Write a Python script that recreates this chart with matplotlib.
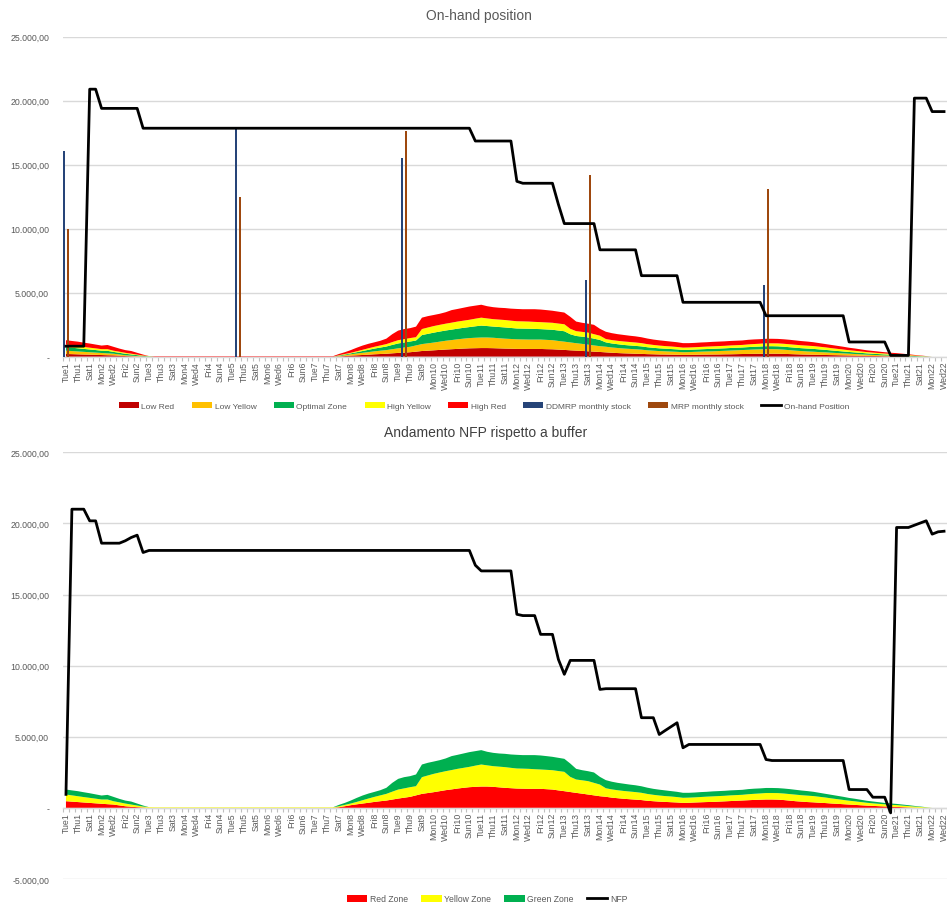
import matplotlib
matplotlib.use('agg')
from matplotlib import pylab as plt
from matplotlib.ticker import FuncFormatter, MultipleLocator
import numpy as np

plt.rcParams['font.family'] = ['Liberation Sans', 'DejaVu Sans']

GREY_TXT = '#595959'
GRID = '#D9D9D9'

weekdays = ['Tue', 'Wed', 'Thu', 'Fri', 'Sat', 'Sun', 'Mon']
n_days = 149
day_labels = [weekdays[d % 7] + str(1 + (d + 1) // 7) for d in range(n_days)]

# ---- top chart: buffer split in five bands (daily values) ----
low_red = ([210, 200, 185, 170, 160, 145, 130, 115, 105, 80, 50, 35, 20, 10, 0] + [0] * 31 +
           [20, 50, 85, 110, 135, 160, 190, 210, 230, 265, 295, 320, 350, 395, 445, 470, 500, 530, 560, 585,
            610, 635, 655, 665, 675, 675, 665, 650, 635, 625, 610, 610, 605, 605, 605, 590, 580, 555, 530, 500,
            475, 450, 425, 395, 370] +
           [340, 310, 285, 265, 250, 230, 220, 200, 190, 175, 170, 160, 150, 140, 145, 150, 160, 165, 170, 175,
            185, 190, 200, 210, 215, 225, 230, 235, 235, 230, 220, 205, 190, 175, 165, 155, 145, 135, 125, 115,
            105, 95, 85, 75, 65, 55, 50, 40, 35, 30, 20, 10, 5, 0, 0] + [0] * 3)
low_yellow = ([260, 240, 225, 210, 190, 175, 160, 145, 130, 95, 65, 45, 30, 15, 0] + [0] * 31 +
              [25, 65, 105, 140, 170, 200, 230, 260, 285, 320, 360, 395, 425, 485, 540, 575, 605, 645, 685, 715,
               750, 775, 800, 815, 825, 825, 815, 795, 775, 760, 750, 740, 735, 735, 735, 725, 710, 675, 645, 615,
               580, 550, 515, 485, 450] +
              [440, 410, 395, 375, 360, 350, 330, 300, 280, 265, 250, 240, 230, 210, 215, 230, 235, 245, 250, 265,
               275, 290, 300, 310, 325, 335, 345, 355, 355, 350, 330, 305, 280, 265, 245, 235, 215, 205, 185, 170,
               155, 140, 125, 110, 95, 85, 70, 60, 50, 40, 30, 20, 5, 0, 0] + [0] * 3)
optimal = ([280, 265, 245, 230, 215, 200, 180, 200, 140, 130, 115, 95, 70, 40, 30] + [0] * 31 +
           [40, 55, 70, 100, 140, 180, 215, 245, 280, 335, 380, 395, 410, 385, 705, 740, 775, 790, 800, 815,
            830, 845, 860, 895, 930, 895, 875, 875, 875, 860, 845, 845, 845, 830, 815, 815, 815, 815, 815, 640,
            565, 565, 565, 530, 490] +
           [340, 315, 295, 280, 270, 265, 255, 240, 225, 215, 205, 200, 190, 180, 180, 180, 185, 190, 195, 195,
            195, 200, 200, 200, 210, 215, 220, 230, 230, 230, 230, 230, 230, 225, 225, 220, 210, 195, 180, 165,
            150, 135, 125, 115, 100, 90, 85, 75, 70, 65, 55, 50, 45, 35, 20] + [0] * 3)
high_yellow = ([190, 175, 165, 150, 140, 130, 120, 130, 95, 85, 75, 60, 45, 30, 20] + [0] * 31 +
               [30, 40, 45, 70, 95, 120, 140, 165, 190, 220, 255, 260, 270, 260, 470, 495, 515, 525, 535, 545,
                555, 560, 570, 595, 620, 595, 580, 580, 580, 570, 565, 565, 560, 550, 545, 545, 545, 545, 545, 425,
                375, 375, 375, 350, 330] +
               [260, 265, 265, 270, 270, 265, 255, 240, 225, 215, 205, 200, 190, 180, 180, 180, 185, 190, 195, 195,
                195, 200, 200, 200, 210, 215, 220, 225, 225, 230, 230, 230, 230, 225, 225, 220, 210, 195, 180, 165,
                150, 135, 125, 110, 100, 90, 80, 75, 65, 60, 55, 50, 40, 30, 15] + [0] * 3)
high_red = ([350, 350, 355, 340, 325, 300, 280, 325, 305, 245, 210, 210, 140, 70, 0] + [40] * 31 +
            [95, 140, 210, 280, 330, 350, 350, 365, 425, 620, 750, 790, 775, 825, 890, 890, 865, 865, 895, 980,
             985, 1010, 1035, 1020, 1010, 955, 935, 925, 935, 940, 960, 950, 965, 990, 985, 965, 940, 930, 915, 940,
             750, 710, 700, 730, 540] +
            [570, 540, 520, 510, 490, 480, 460, 440, 420, 410, 400, 380, 370, 350, 340, 340, 345, 340, 350, 350,
             350, 350, 350, 350, 360, 360, 355, 355, 355, 350, 350, 350, 340, 330, 320, 300, 280, 260, 250, 235,
             220, 195, 180, 160, 140, 130, 115, 100, 90, 85, 75, 60, 45, 30, 15] + [0] * 3)

on_hand = ([820] * 4 + [20900] * 2 + [19400] * 7 + [17850] * 56 + [16850] * 7 + [13700] + [13550] * 6 +
           [11900] + [10400] * 6 + [8350] * 7 + [6330] * 7 + [4250] * 14 + [3200] * 14 + [1150] * 7 +
           [100] * 4 + [20200] * 3 + [19150] * 3)

# monthly stock bars
stock_days = [0, 29, 57, 88, 118]
ddmrp_stock = [16050, 17850, 15500, 6000, 5600]
mrp_stock = [10000, 12500, 17600, 14200, 13100]

# ---- bottom chart: red / yellow / green zone and NFP ----
red_zone = ([470, 440, 410, 380, 350, 320, 290, 260, 235, 175, 115, 80, 50, 25, 0] + [0] * 31 +
            [45, 115, 190, 250, 305, 360, 420, 470, 515, 585, 655, 715, 775, 880, 985, 1045, 1105, 1175, 1245, 1300,
             1360, 1410, 1455, 1480, 1500, 1500, 1480, 1445, 1410, 1385, 1360, 1350, 1340, 1340, 1340, 1315, 1290,
             1230, 1175, 1115, 1055, 1000, 940, 880, 820] +
            [780, 720, 680, 640, 610, 580, 550, 500, 470, 440, 420, 400, 380, 350, 360, 380, 395, 410, 420, 440,
             460, 480, 500, 520, 540, 560, 575, 590, 590, 580, 550, 510, 470, 440, 410, 390, 360, 340, 310, 285,
             260, 235, 210, 185, 160, 140, 120, 100, 85, 70, 50, 30, 10, 0, 0] + [0] * 3)
yellow_zone = ([470, 440, 410, 380, 355, 330, 300, 330, 235, 215, 190, 155, 115, 70, 50] + [40] * 31 +
               [70, 95, 115, 170, 235, 300, 355, 410, 470, 555, 635, 655, 680, 645, 1175, 1235, 1290, 1315, 1335,
                1360, 1385, 1405, 1430, 1490, 1550, 1490, 1455, 1455, 1455, 1430, 1410, 1410, 1405, 1380, 1360,
                1360, 1360, 1360, 1360, 1065, 940, 940, 940, 880, 820] +
               [600, 580, 560, 550, 540, 530, 510, 480, 450, 430, 410, 400, 380, 360, 360, 360, 370, 380, 390, 390,
                390, 400, 400, 400, 420, 430, 440, 455, 455, 460, 460, 460, 460, 450, 450, 440, 420, 390, 360, 330,
                300, 270, 250, 225, 200, 180, 165, 150, 135, 125, 110, 100, 85, 65, 35] + [0] * 3)
green_zone = ([350, 350, 355, 340, 325, 300, 280, 325, 305, 245, 210, 210, 140, 70, 0] + [0] * 31 +
              [95, 140, 210, 280, 330, 350, 350, 365, 425, 620, 750, 790, 775, 825, 890, 890, 865, 865, 895, 980,
               985, 1010, 1035, 1020, 1010, 955, 935, 925, 935, 940, 960, 950, 965, 990, 985, 965, 940, 930, 915, 940,
               750, 710, 700, 730, 540] +
              [570, 540, 520, 510, 490, 480, 460, 440, 420, 410, 400, 380, 370, 350, 340, 340, 345, 340, 350, 350,
               350, 350, 350, 350, 360, 360, 355, 355, 355, 350, 350, 350, 340, 330, 320, 300, 280, 260, 250, 235,
               220, 195, 180, 160, 140, 130, 115, 100, 90, 85, 75, 60, 45, 30, 15] + [0] * 3)

nfp = ([950] + [21000] * 3 + [20180] * 2 + [18610] * 4 + [18780, 19010, 19175, 17955] + [18100] * 55 +
       [17060] + [16660] * 6 + [13610] + [13520] * 3 + [12200] * 3 + [10440, 9390] + [10370] * 5 +
       [8330] + [8380] * 6 + [6340] * 3 + [5160, 5440, 5710, 5985, 4225] + [4460] * 13 + [3400] +
       [3330] * 13 + [1290] * 4 + [750] * 3 + [-350] + [19715] * 3 + [19870, 20030, 20185, 19245, 19410, 19450])


def it_fmt(v, pos):
	if abs(v) < 1e-6:
		return '-'
	s = '{:,.2f}'.format(v)
	return s.replace(',', 'X').replace('.', ',').replace('X', '.')


def style_axes(ax, xmax):
	days = np.arange(n_days)
	ax.set_xlim(-0.5, xmax)
	ax.set_xticks(days[::2])
	ax.set_xticklabels(day_labels[::2], rotation=90, fontsize=6.3, color=GREY_TXT, va='top', ha='center')
	ax.set_xticks(np.arange(-0.5, n_days, 1), minor=True)
	ax.tick_params(axis='x', which='major', length=0, pad=3)
	ax.tick_params(axis='x', which='minor', length=3, color='#BFBFBF', width=0.8)
	ax.yaxis.set_major_locator(MultipleLocator(5000))
	ax.yaxis.set_major_formatter(FuncFormatter(it_fmt))
	ax.tick_params(axis='y', length=0, pad=10, labelsize=6.3, labelcolor=GREY_TXT)
	ax.yaxis.grid(True, color=GRID, lw=1)
	ax.set_axisbelow(True)
	for s in ['left', 'right', 'top']:
		ax.spines[s].set_visible(False)
	ax.spines['bottom'].set_color(GRID)
	ax.spines['bottom'].set_linewidth(1)


def add_legend(ax, fig, handles, xy, ncol, fs, colsp):
	leg = ax.legend(handles=handles, loc='center', bbox_to_anchor=(xy[0] / 947, 1 - xy[1] / 903),
	                bbox_transform=fig.transFigure, ncol=ncol, frameon=False, fontsize=fs,
	                handlelength=2.4, handleheight=0.7, handletextpad=0.3, columnspacing=colsp)
	for t in leg.get_texts():
		t.set_color(GREY_TXT)


def plot_top(fig):
	ax = fig.add_axes([63 / 947, 1 - 357.7 / 903, 884 / 947, 320 / 903])
	days = np.arange(n_days)
	areas = ax.stackplot(days, low_red, low_yellow, optimal, high_yellow, high_red,
	                     colors=['#C00000', '#FFC000', '#00B050', '#FFFF00', '#FF0000'],
	                     labels=['Low Red', 'Low Yellow', 'Optimal Zone', 'High Yellow', 'High Red'],
	                     lw=0, zorder=2)
	sd = np.array(stock_days)
	b1 = ax.bar(sd - 0.33, ddmrp_stock, width=0.3, color='#264478', label='DDMRP monthly stock', zorder=3)
	b2 = ax.bar(sd + 0.3, mrp_stock, width=0.3, color='#9E480E', label='MRP monthly stock', zorder=3)
	ln, = ax.plot(days, on_hand, color='black', lw=2.0, label='On-hand Position', zorder=4,
	              solid_joinstyle='round')
	ax.set_ylim(0, 25000)
	style_axes(ax, 148.07)
	add_legend(ax, fig, list(areas) + [b1, b2, ln], (484, 407), 8, 6, 2.1)
	fig.text(479 / 947, 1 - 16 / 903, 'On-hand position', ha='center', va='center', fontsize=10, color=GREY_TXT)


def plot_bottom(fig):
	ax = fig.add_axes([63 / 947, 1 - 880 / 903, 884 / 947, (880 - 453.3) / 903])
	ax.spines['bottom'].set_position(('data', 0))
	days = np.arange(n_days)
	areas = ax.stackplot(days, red_zone, yellow_zone, green_zone,
	                     colors=['#FF0000', '#FFFF00', '#00B050'],
	                     labels=['Red Zone', 'Yellow Zone', 'Green Zone'], lw=0, zorder=2)
	ln, = ax.plot(days, nfp, color='black', lw=2.0, label='NFP', zorder=4, solid_joinstyle='round')
	ax.set_ylim(-5000, 25000)
	style_axes(ax, 147.08)
	add_legend(ax, fig, list(areas) + [ln], (487, 900), 4, 6.2, 1.5)
	fig.text(486 / 947, 1 - 433 / 903, 'Andamento NFP rispetto a buffer', ha='center', va='center',
	         fontsize=10, color='#404040')


def main():
	fig = plt.figure(figsize=(9.47, 9.03), dpi=100)
	plot_top(fig)
	plot_bottom(fig)
	fig.savefig('out.png', dpi=100)


main()
